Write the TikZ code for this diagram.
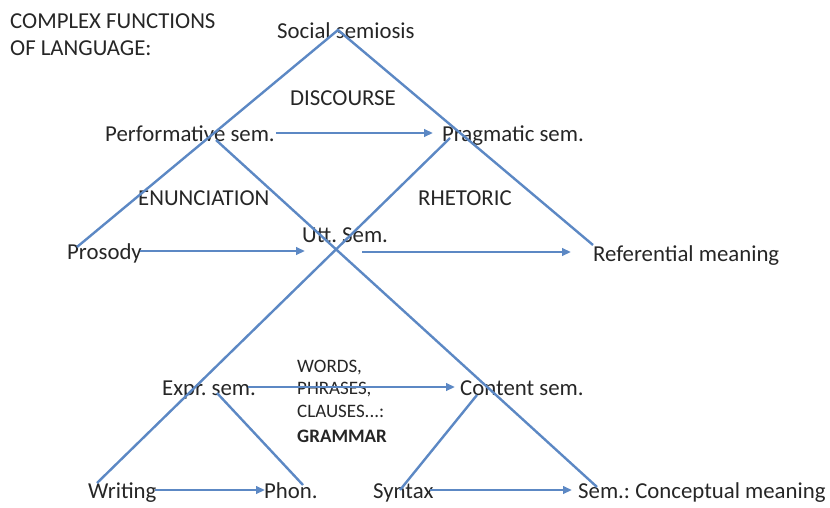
\documentclass[tikz,border=0pt]{standalone}
\usepackage{fontspec}
\setmainfont{Carlito}
\usetikzlibrary{arrows.meta}
\definecolor{lineblue}{RGB}{92,136,196}
\frenchspacing
\begin{document}
\begin{tikzpicture}[x=1pt,y=-1pt,
  lbl/.style={anchor=base west,inner sep=0pt,text height=16pt,text depth=0pt,
    font=\fontsize{22.8}{27}\selectfont,text=black!85},
  small/.style={anchor=base west,inner sep=0pt,text=black!85,
    font=\fontsize{19}{23}\selectfont},
  tri/.style={draw=lineblue,line width=2.4pt},
  arr/.style={draw=lineblue,line width=2.6pt,-{Triangle[length=9pt,width=7.5pt]}}]
\useasboundingbox (0,0) rectangle (830,507);
% labels
\node[lbl] (title1) at (10,28) {COMPLEX FUNCTIONS};
\node[lbl] (title2) at (10,55) {OF LANGUAGE:};
\node[lbl] (soc) at (277,38) {Social semiosis};
\node[lbl] (disc) at (290,105) {DISCOURSE};
\node[lbl] (perf) at (105,141) {Performative sem.};
\node[lbl] (prag) at (442,141) {Pragmatic sem.};
\node[lbl] (enun) at (138,205) {ENUNCIATION};
\node[lbl] (rhet) at (418,205) {RHETORIC};
\node[lbl] (utt) at (302,242) {Utt. Sem.};
\node[lbl] (pros) at (67,259) {Prosody};
\node[lbl] (ref) at (593,261) {Referential meaning};
\node[lbl] (expr) at (162,395) {Expr. sem.};
\node[lbl] (cont) at (460,395) {Content sem.};
\node[small] (g1) at (297,372) {WORDS,};
\node[small] (g2) at (297,394) {PHRASES,};
\node[small] (g3) at (297,417) {CLAUSES...:};
\node[small,font=\fontsize{19}{23}\selectfont\bfseries] (g4) at (297,442) {GRAMMAR};
\node[lbl] (writ) at (88,498) {Writing};
\node[lbl] (phon) at (264,498) {Phon.};
\node[lbl] (synt) at (373,498) {Syntax};
\node[lbl] (conc) at (578,498) {Sem.: Conceptual meaning};
% triangle vertices
\coordinate (apex) at (338,30);
\coordinate (lb) at (77,247);
\coordinate (rb) at (593,245);
\coordinate (p1) at (216,140);
\coordinate (p2) at (597,487);
\coordinate (q1) at (450,138);
\coordinate (q2) at (97,483);
\coordinate (e1) at (217,393);
\coordinate (e2) at (303,485);
\coordinate (s1) at (400,490);
\coordinate (s2) at (477,395);
\coordinate (ua) at (362,252);
% triangle lines
\draw[tri] (lb) -- (apex) -- (rb);
\draw[tri] (p1) -- (p2);
\draw[tri] (q1) -- (q2);
\draw[tri] (e1) -- (e2);
\draw[tri] (s1) -- (s2);
% arrows
\draw[arr,shorten >=9pt,shorten <=1pt] (perf.east) -- (prag.west);
\draw[arr,shorten >=-3pt,shorten <=-2pt] (pros.east) -- (pros.east -| utt.west);
\draw[arr,shorten >=22pt] (ua) -- (ua -| ref.west);
\draw[arr,shorten >=5pt,shorten <=-8pt] (expr.east) -- (cont.west);
\draw[arr,shorten >=-1pt,shorten <=-2pt] (writ.east) -- (phon.west);
\draw[arr,shorten >=6pt,shorten <=-4pt] (synt.east) -- (conc.west);
\end{tikzpicture}
\end{document}
